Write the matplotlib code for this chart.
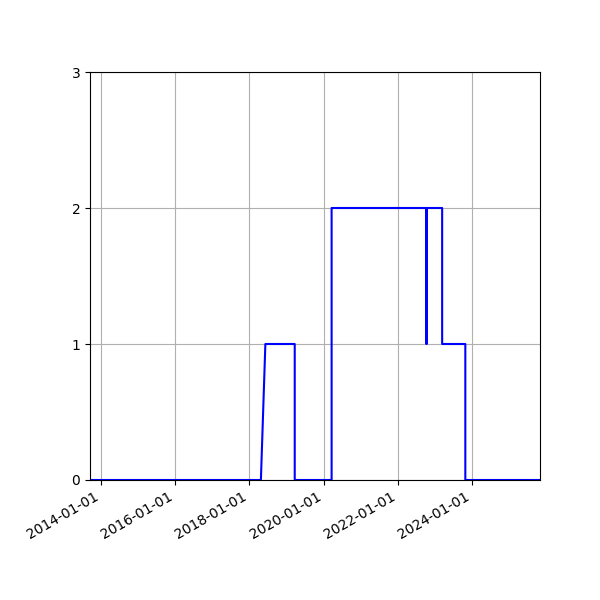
import numpy as np
import pandas as pd
import matplotlib
matplotlib.use('Agg')
import matplotlib.pyplot as plt
import matplotlib.dates as mdates

dates = ['2013-09-15', '2018-04-24', '2018-06-07', '2019-03-23', '2019-03-23',
         '2020-03-20', '2020-03-20', '2022-10-08', '2022-10-08', '2022-10-12',
         '2022-10-12', '2023-03-13', '2023-03-13', '2023-10-27', '2023-10-27',
         '2025-10-31']
values = [0, 0, 1, 1, 0, 0, 2, 2, 1, 1, 2, 2, 1, 1, 0, 0]
yticks = [0, 1, 2, 3]

x = pd.to_datetime(dates)

fig, ax = plt.subplots(figsize=(6, 6), dpi=100)
ax.plot(x, values, color='blue', linewidth=1.5)
ax.set_xlim(pd.Timestamp('2013-09-15'), pd.Timestamp('2025-10-31'))
ax.set_ylim(0, 3)
ax.set_yticks(yticks)
ax.xaxis.set_major_locator(mdates.YearLocator(2))
ax.xaxis.set_major_formatter(mdates.DateFormatter('%Y-%m-%d'))
ax.grid(True)
fig.autofmt_xdate()
fig.subplots_adjust(left=0.15, right=0.9, top=0.88, bottom=0.2)
fig.savefig('out.png')
